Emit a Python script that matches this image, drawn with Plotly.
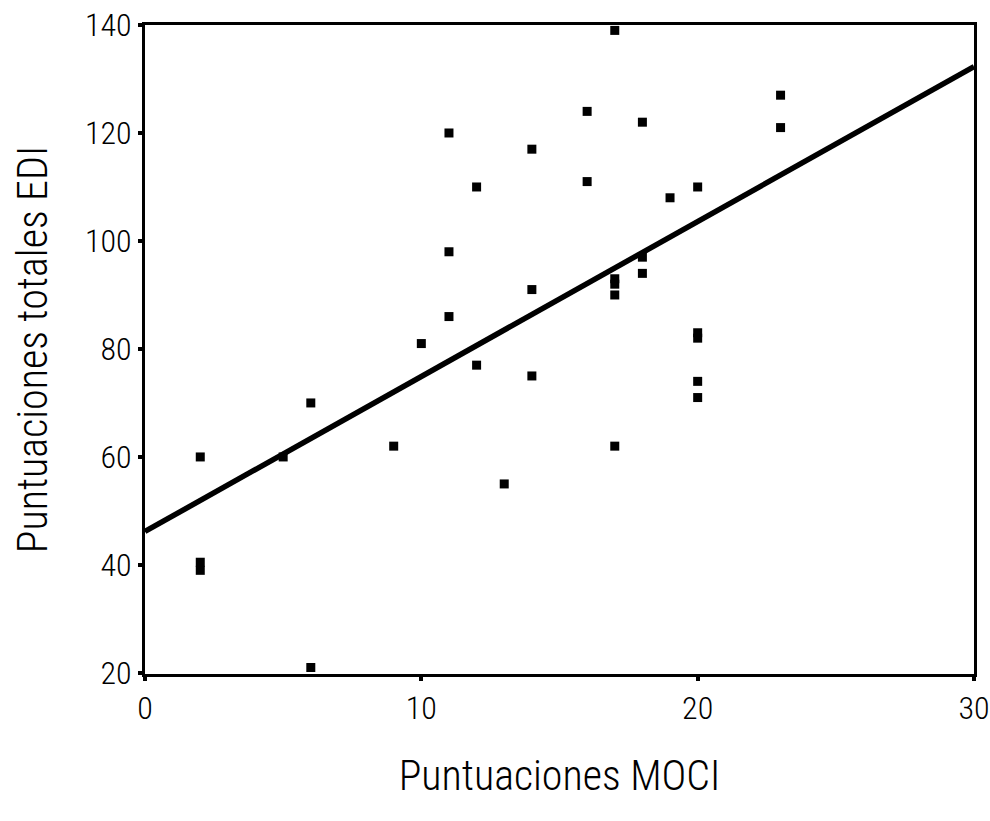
import plotly.graph_objects as go

moci = [2, 2, 2, 5, 6, 6, 9, 10, 11, 11, 11, 12, 12, 13, 14, 14, 14, 16, 16,
        17, 17, 17, 17, 17, 18, 18, 18, 19, 20, 20, 20, 20, 20, 23, 23]
edi = [60, 40.5, 39, 60, 70, 21, 62, 81, 120, 98, 86, 110, 77, 55, 117, 91, 75, 124, 111,
       139, 93, 92, 90, 62, 122, 97, 94, 108, 110, 83, 82, 74, 71, 127, 121]

fit_x = [0, 30]
fit_y = [46.2, 132.3]

FONT = "Roboto Condensed, Arial Narrow, Liberation Sans Narrow, sans-serif"

fig = go.Figure()
fig.add_trace(go.Scatter(x=fit_x, y=fit_y, mode="lines",
                         line=dict(color="black", width=5.5), showlegend=False))
fig.add_trace(go.Scatter(x=moci, y=edi, mode="markers",
                         marker=dict(symbol="square", size=9, color="black"),
                         showlegend=False))

fig.update_layout(
    width=990, height=821,
    margin=dict(l=145, r=16, t=25, b=147),
    paper_bgcolor="white", plot_bgcolor="white",
    font=dict(family=FONT, color="black", weight=300),
    xaxis=dict(range=[0, 30], tickvals=[0, 10, 20, 30], showgrid=False, zeroline=False,
               showline=True, linecolor="black", linewidth=3, mirror=True,
               ticks="outside", ticklen=4, tickwidth=4, tickcolor="black",
               automargin=False, ticklabeloverflow="allow",
               tickfont=dict(size=32, family=FONT, weight=300),
               title=dict(text="Puntuaciones MOCI", font=dict(size=42, family=FONT, weight=300), standoff=35)),
    yaxis=dict(range=[19.8, 140], tickvals=[20, 40, 60, 80, 100, 120, 140], showgrid=False, zeroline=False,
               showline=True, linecolor="black", linewidth=3, mirror=True,
               ticks="outside", ticklen=4, tickwidth=4, tickcolor="black",
               automargin=False, ticklabeloverflow="allow",
               tickfont=dict(size=32, family=FONT, weight=300),
               title=dict(text="Puntuaciones totales EDI", font=dict(size=42, family=FONT, weight=300), standoff=25)),
)

fig.write_html("out.html")
